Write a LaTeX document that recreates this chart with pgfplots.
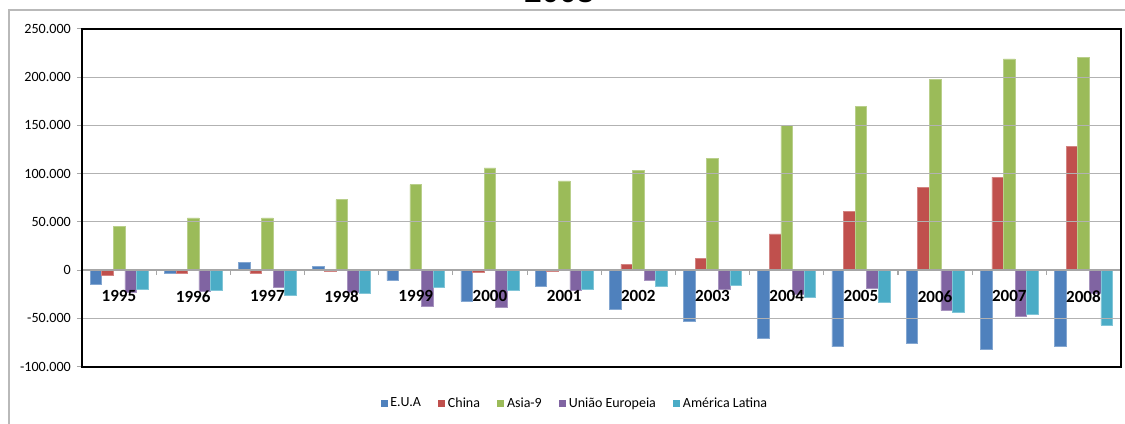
\documentclass[border=0pt]{standalone}
\usepackage{pgfplots}
\pgfplotsset{compat=1.18}
\usepackage{pgfplotstable}
\usepackage{fontspec}
\setmainfont{Carlito}
\newfontfamily\titlefont{Liberation Sans}

\definecolor{cEUA}{HTML}{4F81BD}
\definecolor{cChina}{HTML}{C0504D}
\definecolor{cAsia}{HTML}{9BBB59}
\definecolor{cUE}{HTML}{8064A2}
\definecolor{cAL}{HTML}{4BACC6}

% saldo comercial (milhares), 1995-2008 em 0..13
\pgfplotstableread{
idx eua china asia ue al
0  -15    -5.5   45    -22.5 -19.5
1  -3     -3     54    -22   -21
2  8      -3     54    -18   -26.5
3  4      -1.7   73    -23   -23.7
4  -11    -0.5   88.5  -37.5 -18
5  -32.5  -2     106   -39   -21
6  -17    -1.5   92.5  -21   -19.5
7  -40.5  6      103.5 -11   -17
8  -53    12     116   -19.5 -15.5
9  -71    37.5   150   -25   -28
10 -79.5  61     170   -18.5 -33.5
11 -75.5  85.5   198   -42   -43.5
12 -82.5  96.5   219   -48   -46
13 -79.5  128.5  220.5 -24   -57
}\saldos

\pgfplotsset{
  layers/gridbelow/.define layer set={axis background,axis grid,bars,main,axis ticks,axis lines,axis tick labels,axis descriptions,axis foreground}{},
  mybar/.style={fill=#1, draw=#1!70!white, line width=0.4pt, /pgfplots/on layer=bars,
    legend image code/.code={\fill[#1,draw=none] (0pt,-2.8pt) rectangle (5.25pt,2.8pt);}},
}

\begin{document}
\begin{tikzpicture}[x=0.75pt,y=0.75pt]
\path (0,0) rectangle (1125,424);
\draw[overlay, gray!55, line width=1.2pt] (9.3,-10) -- (9.3,414) -- (1140,414);
\node[overlay, anchor=base, font=\titlefont\bfseries\fontsize{23.5}{26}\selectfont] at (560,421.5) {2008};
\begin{axis}[
    set layers=gridbelow,
    at={(61.5pt,42.75pt)}, anchor=south west,
    width=780pt, height=253.5pt, scale only axis,
    xmin=-0.5, xmax=13.5, ymin=-100, ymax=250,
    axis x line=middle, axis y line=left,
    axis line style={-},
    x axis line style={gray!70, line width=0.9pt},
    y axis line style={black, line width=1.5pt},
    ybar, bar width=8.7pt, ybar=0pt,
    xtick={-0.5,0.5,...,13.5}, xticklabels={},
    tick align=outside,
    major tick length=5.25pt,
    xtick style={gray!70, line width=0.8pt},
    extra x ticks={0,...,13},
    extra x tick labels={1995,1996,1997,1998,1999,2000,2001,2002,2003,2004,2005,2006,2007,2008},
    extra x tick style={major tick length=0pt,
      tick label style={font=\bfseries\fontsize{12.8}{14}\selectfont, yshift=-12pt}},
    ytick={-100,-50,0,50,100,150,200,250},
    yticklabels={-100.000,-50.000,0,50.000,100.000,150.000,200.000,250.000},
    ytick style={gray!70, line width=0.8pt},
    major tick length=3.75pt,
    yticklabel style={font=\fontsize{10.6}{12}\selectfont, xshift=-1pt},
    /pgf/number format/assume math mode=true,
    ymajorgrids, grid style={gray!60, line width=0.9pt},
    legend columns=5,
    legend style={at={(0.475,-0.109)}, anchor=center, draw=none, fill=none,
      font=\fontsize{10.5}{12}\selectfont,
      /tikz/every even column/.append style={column sep=11pt}},
    after end axis/.code={\draw[black, line width=1.5pt] (rel axis cs:0,0) rectangle (rel axis cs:1,1);},
]
\addplot[mybar=cEUA]   table[x=idx, y=eua]   {\saldos};
\addplot[mybar=cChina] table[x=idx, y=china] {\saldos};
\addplot[mybar=cAsia]  table[x=idx, y=asia]  {\saldos};
\addplot[mybar=cUE]    table[x=idx, y=ue]    {\saldos};
\addplot[mybar=cAL]    table[x=idx, y=al]    {\saldos};
\legend{E.U.A, China, Asia-9, União Europeia, América Latina}
\end{axis}
\end{tikzpicture}
\end{document}
